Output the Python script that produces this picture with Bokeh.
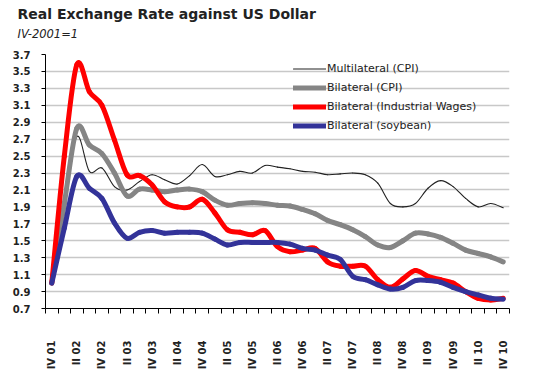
from bokeh.plotting import figure
from bokeh.models import (ColumnDataSource, FixedTicker, Legend, LegendItem, Title, Range1d)
from bokeh.embed import file_html
from bokeh.resources import INLINE
import math

quarters = ["IV 01"] + [f"{q} {y:02d}" for y in range(2, 11) for q in ["I", "II", "III", "IV"]]

multilateral_cpi = [1.00, 1.95, 2.73, 2.32, 2.36, 2.14, 2.10, 2.20, 2.28, 2.22,
                    2.17, 2.27, 2.40, 2.26, 2.28, 2.32, 2.30, 2.39, 2.37, 2.35,
                    2.32, 2.31, 2.28, 2.29, 2.30, 2.28, 2.18, 1.94, 1.90, 1.94,
                    2.12, 2.21, 2.14, 2.00, 1.90, 1.94, 1.89]
bilateral_cpi = [1.00, 1.94, 2.83, 2.63, 2.53, 2.30, 2.03, 2.11, 2.10, 2.08,
                 2.10, 2.11, 2.08, 1.98, 1.92, 1.94, 1.95, 1.94, 1.92, 1.91,
                 1.87, 1.82, 1.74, 1.69, 1.63, 1.55, 1.45, 1.42, 1.50, 1.59,
                 1.58, 1.54, 1.47, 1.39, 1.35, 1.31, 1.25]
bilateral_wages = [1.00, 2.50, 3.58, 3.26, 3.10, 2.69, 2.28, 2.27, 2.16, 1.96,
                   1.90, 1.90, 1.99, 1.83, 1.63, 1.60, 1.57, 1.62, 1.43, 1.37,
                   1.39, 1.41, 1.25, 1.20, 1.20, 1.20, 1.04, 0.95, 1.05, 1.15,
                   1.08, 1.04, 1.00, 0.90, 0.82, 0.80, 0.82]
bilateral_soybean = [1.00, 1.65, 2.26, 2.12, 2.00, 1.71, 1.53, 1.60, 1.62, 1.59,
                     1.60, 1.60, 1.59, 1.52, 1.45, 1.48, 1.48, 1.48, 1.48, 1.46,
                     1.41, 1.39, 1.33, 1.28, 1.08, 1.04, 0.98, 0.93, 0.95, 1.03,
                     1.03, 1.01, 0.95, 0.90, 0.86, 0.82, 0.81]
y_ticks = [0.7, 0.9, 1.1, 1.3, 1.5, 1.7, 1.9, 2.1, 2.3, 2.5, 2.7, 2.9, 3.1, 3.3, 3.5, 3.7]

series = [
    ("Multilateral (CPI)", multilateral_cpi, "#222222", 1.1),
    ("Bilateral (CPI)", bilateral_cpi, "#858585", 5),
    ("Bilateral (Industrial Wages)", bilateral_wages, "#ff0000", 5),
    ("Bilateral (soybean)", bilateral_soybean, "#333399", 5),
]

FONT = "DejaVu Sans"

p = figure(frame_width=464, frame_height=254, output_backend="svg", toolbar_location=None,
           title=None, x_range=Range1d(-0.5, len(quarters) - 0.5),
           y_range=Range1d(y_ticks[0], y_ticks[-1]),
           min_border_left=45, min_border_right=8, min_border_top=0, min_border_bottom=0)
p.outline_line_color = None
p.background_fill_color = "white"

spacer = Title(text=" ", text_font=FONT, text_font_size="1px", standoff=11)
sub = Title(text="IV-2001=1", text_font=FONT, text_font_size="11.5px",
            text_font_style="italic", offset=-28, standoff=0, text_color="#222222")
main = Title(text="Real Exchange Rate against US Dollar", text_font=FONT,
             text_font_size="14px", text_font_style="bold", offset=-28, standoff=6,
             text_color="#222222")
p.add_layout(spacer, "above")
p.add_layout(sub, "above")
p.add_layout(main, "above")


def smooth_source(vals):
    n = len(vals)
    xs = list(range(n))
    x0, y0, x1, y1, cx0, cy0, cx1, cy1 = [], [], [], [], [], [], [], []
    for i in range(n - 1):
        im = max(i - 1, 0)
        ip2 = min(i + 2, n - 1)
        x0.append(xs[i]); y0.append(vals[i])
        x1.append(xs[i + 1]); y1.append(vals[i + 1])
        cx0.append(xs[i] + (xs[i + 1] - xs[im]) / 6.0)
        cy0.append(vals[i] + (vals[i + 1] - vals[im]) / 6.0)
        cx1.append(xs[i + 1] - (xs[ip2] - xs[i]) / 6.0)
        cy1.append(vals[i + 1] - (vals[ip2] - vals[i]) / 6.0)
    return ColumnDataSource(dict(x0=x0, y0=y0, x1=x1, y1=y1, cx0=cx0, cy0=cy0, cx1=cx1, cy1=cy1))


items = []
for name, vals, color, lw in series:
    src = smooth_source(vals)
    r = p.bezier(x0="x0", y0="y0", x1="x1", y1="y1", cx0="cx0", cy0="cy0",
                 cx1="cx1", cy1="cy1", source=src, line_color=color, line_width=lw,
                 line_cap="round", line_join="round")
    items.append(LegendItem(label=name, renderers=[r]))

legend = Legend(items=items, location=(248, 173), border_line_alpha=0,
                background_fill_alpha=0, padding=0, margin=0, spacing=0,
                label_height=19, glyph_height=19, glyph_width=33, label_standoff=1,
                label_text_font=FONT, label_text_font_size="11px",
                label_text_color="#222222")
p.add_layout(legend)

# y axis
p.yaxis.ticker = FixedTicker(ticks=y_ticks)
p.yaxis.major_label_overrides = {t: f"{t:.1f}" for t in y_ticks}
p.yaxis.major_label_text_font = FONT
p.yaxis.major_label_text_font_size = "10px"
p.yaxis.major_label_text_font_style = "bold"
p.yaxis.major_label_text_color = "#222222"
p.yaxis.axis_line_color = "black"
p.yaxis.major_tick_line_color = "black"
p.yaxis.major_tick_out = 4
p.yaxis.major_tick_in = 0
p.yaxis.minor_tick_line_color = None
p.yaxis.major_label_standoff = 11

# x axis
even_idx = list(range(0, len(quarters), 2))
bounds = [i - 0.5 for i in range(len(quarters) + 1)]
p.xaxis.ticker = FixedTicker(ticks=even_idx, minor_ticks=bounds)
p.xaxis.major_label_overrides = {i: quarters[i] for i in even_idx}
p.xaxis.major_label_orientation = math.pi / 2
p.xaxis.major_label_text_font = FONT
p.xaxis.major_label_text_font_size = "10px"
p.xaxis.major_label_text_font_style = "bold"
p.xaxis.major_label_text_color = "#222222"
p.xaxis.axis_line_color = "black"
p.xaxis.major_tick_out = 0
p.xaxis.major_tick_in = 0
p.xaxis.minor_tick_out = 5
p.xaxis.minor_tick_in = 0
p.xaxis.minor_tick_line_color = "black"
p.xaxis.major_label_standoff = 27

p.xgrid.grid_line_color = None
p.ygrid.grid_line_color = "#c8c8c8"
p.ygrid.grid_line_width = 1.5

open("out.html", "w").write(file_html(p, INLINE))
